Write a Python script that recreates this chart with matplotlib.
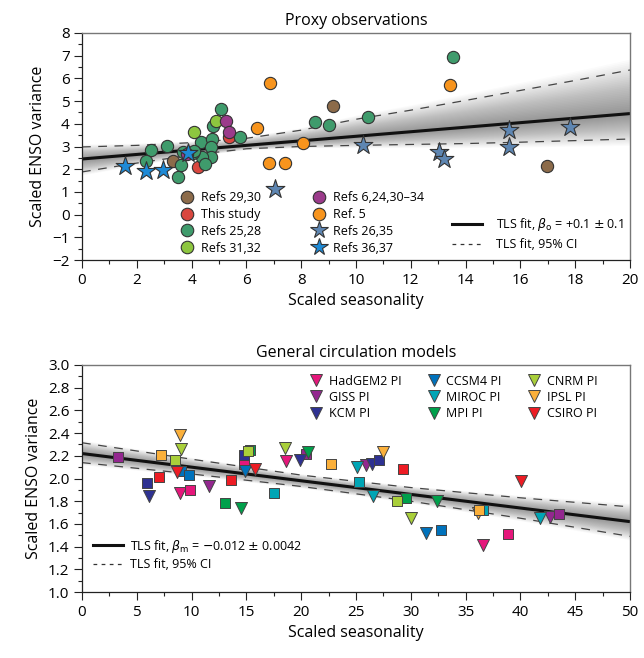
"""Scaled ENSO variance vs scaled seasonality: proxy observations and GCMs."""
import numpy as np
import matplotlib
matplotlib.use("Agg")
import matplotlib.pyplot as plt
from matplotlib.lines import Line2D
from matplotlib.ticker import MultipleLocator

plt.rcParams["font.family"] = ["Open Sans", "DejaVu Sans"]
plt.rcParams["mathtext.fontset"] = "dejavusans"

# ---------------- proxy observations (top) ----------------
PROXY_LABELS = ["Refs 29,30", "This study", "Refs 25,28", "Refs 31,32",
                "Refs 6,24,30\u201334", "Ref. 5", "Refs 26,35", "Refs 36,37"]
PROXY_COLORS = ["#8C6B4A", "#D9473F", "#3F9B6C", "#8DC63F",
                "#9B3B8B", "#F7941D", "#5E86B2", "#1E8AD6"]
PROXY_MARKERS = ["o", "o", "o", "o", "o", "o", "*", "*"]

brown_x = [3.32, 9.16, 16.97]
brown_y = [2.36, 4.78, 2.14]
red_x = [5.36, 4.23]
red_y = [3.42, 2.10]
green_x = [5.07, 4.78, 5.77, 4.34, 4.74, 4.71, 4.71, 4.38, 4.49, 3.10, 2.52,
           2.34, 3.50, 3.61, 3.69, 4.05, 4.09, 8.50, 9.01, 10.44, 13.54]
green_y = [4.65, 3.90, 3.42, 3.20, 3.33, 2.98, 2.54, 2.54, 2.23, 3.02, 2.85,
           2.36, 1.66, 2.19, 2.76, 2.71, 2.80, 4.08, 3.95, 4.30, 6.94]
lime_x = [4.89, 4.09]
lime_y = [4.12, 3.64]
purple_x = [5.26, 5.36, 3.83]
purple_y = [4.12, 3.64, 2.67]
orange_x = [6.86, 6.39, 8.07, 6.83, 7.40, 13.43]
orange_y = [5.80, 3.82, 3.15, 2.27, 2.27, 5.71]
steel_x = [7.06, 10.26, 13.03, 13.21, 15.58, 15.58, 17.81]
steel_y = [1.12, 3.05, 2.76, 2.45, 3.73, 2.98, 3.85]
blue_x = [1.57, 2.34, 2.96, 3.87]
blue_y = [2.14, 1.92, 1.96, 2.71]

PROXY_X = [brown_x, red_x, green_x, lime_x, purple_x, orange_x, steel_x, blue_x]
PROXY_Y = [brown_y, red_y, green_y, lime_y, purple_y, orange_y, steel_y, blue_y]

# TLS fit and 95% CI
top_fit = (2.45, 0.10)   # intercept, slope
top_ci_x = [0, 2, 4, 6, 8, 10, 12, 14, 16, 18, 20]
top_ci_up = [2.98, 3.05, 3.17, 3.36, 3.72, 4.20, 4.60, 5.03, 5.47, 5.91, 6.37]
top_ci_lo = [1.88, 2.27, 2.62, 2.90, 3.00, 3.05, 3.09, 3.13, 3.19, 3.26, 3.33]

# ---------------- general circulation models (bottom) ----------------
GCM_LABELS = ["HadGEM2 PI", "GISS PI", "KCM PI", "CCSM4 PI", "MIROC PI",
              "MPI PI", "CNRM PI", "IPSL PI", "CSIRO PI"]
GCM_COLORS = ["#E5177B", "#93278F", "#2E3192", "#0072BC", "#00A5B5",
              "#00A04B", "#A9CF3A", "#FBB03B", "#ED1C24"]
GCM_TRI_X = [[8.94, 18.61, 36.56], [11.56, 25.90, 42.70], [6.08, 19.92, 26.43],
             [14.90, 31.39], [25.06, 26.52, 41.79], [14.54, 32.36, 20.65],
             [9.06, 18.55, 29.99], [8.91, 27.49, 36.10], [8.67, 15.81, 40.05]]
GCM_TRI_Y = [[1.87, 2.15, 1.41], [1.93, 2.12, 1.66], [1.85, 2.16, 2.13],
             [2.07, 1.52], [2.10, 1.85, 1.65], [1.74, 1.80, 2.23],
             [2.26, 2.27, 1.65], [2.38, 2.23, 1.70], [2.06, 2.08, 1.98]]
GCM_SQ_X = [[9.88, 14.75, 38.90], [3.28, 20.44, 43.52], [5.96, 14.75, 27.13],
            [9.06, 9.79, 32.73], [17.49, 25.30, 36.60], [13.02, 15.36, 29.56],
            [8.52, 15.12, 28.77], [7.24, 22.75, 36.25], [7.00, 13.63, 29.32]]
GCM_SQ_Y = [[1.90, 2.13, 1.51], [2.19, 2.22, 1.69], [1.96, 2.21, 2.16],
            [2.07, 2.03, 1.55], [1.87, 1.97, 1.72], [1.78, 2.25, 1.83],
            [2.16, 2.24, 1.80], [2.21, 2.125, 1.72], [2.01, 1.99, 2.08]]

bot_fit = (2.22, -0.012)
bot_ci_x = [0, 10, 20, 30, 40, 50]
bot_ci_up = [2.315, 2.17, 2.03, 1.92, 1.83, 1.75]
bot_ci_lo = [2.14, 2.04, 1.93, 1.80, 1.65, 1.49]


def draw_band(ax, fit, ci_x, ci_up, ci_lo):
    """Grey fading band, fit line and dashed CI."""
    x = np.asarray(ci_x, float)
    c = fit[0] + fit[1] * x
    up = np.asarray(ci_up) - c
    lo = c - np.asarray(ci_lo)
    n = 30
    for k in range(n):
        f = 1.25 * (k + 1) / n
        ax.fill_between(x, c - f * lo, c + f * up, color="black",
                        alpha=0.016, lw=0, zorder=1)
    ax.plot(x, c, color="#111111", lw=2.2, zorder=2, solid_capstyle="butt")
    ax.plot(ci_x, ci_up, color="#444444", lw=0.9, ls=(0, (7, 6)), zorder=2)
    ax.plot(ci_x, ci_lo, color="#444444", lw=0.9, ls=(0, (7, 6)), zorder=2)


def style_axes(ax):
    for s in ("top", "right"):
        ax.spines[s].set_color("#777777")
        ax.spines[s].set_linewidth(1.0)
    for s in ("left", "bottom"):
        ax.spines[s].set_color("#222222")
        ax.spines[s].set_linewidth(0.9)
    ax.tick_params(which="major", direction="out", length=6, width=0.8,
                   labelsize=11, color="#222222", pad=3)
    ax.tick_params(which="minor", direction="out", length=3, width=0.8,
                   color="#222222")


def line_handles(beta_text):
    return [Line2D([], [], color="#111111", lw=2.2),
            Line2D([], [], color="#333333", lw=0.9, ls=(0, (3, 3.5)))], \
           [beta_text, "TLS fit, 95% CI"]


fig = plt.figure(figsize=(6.44, 6.58), dpi=100)
ax1 = fig.add_axes([82 / 644, 1 - 260 / 658, 548 / 644, 227 / 658])
ax2 = fig.add_axes([82 / 644, 1 - 592 / 658, 548 / 644, 227 / 658])

# ---- top panel ----
draw_band(ax1, top_fit, top_ci_x, top_ci_up, top_ci_lo)
marker_handles = []
for xs, ys, col, mk, lab in zip(PROXY_X, PROXY_Y, PROXY_COLORS,
                                PROXY_MARKERS, PROXY_LABELS):
    size = 200 if mk == "*" else 78
    ax1.scatter(xs, ys, s=size, marker=mk, facecolor=col, edgecolor="#333333",
                linewidth=0.8, zorder=3)
    marker_handles.append(Line2D([], [], ls="", marker=mk, color=col,
                                 markeredgecolor="#333333", markeredgewidth=0.8,
                                 markersize=13 if mk == "*" else 9))
ax1.set_xlim(0, 20)
ax1.set_ylim(-2, 8)
ax1.xaxis.set_major_locator(MultipleLocator(2))
ax1.xaxis.set_minor_locator(MultipleLocator(1))
ax1.yaxis.set_major_locator(MultipleLocator(1))
ax1.yaxis.set_minor_locator(MultipleLocator(0.5))
style_axes(ax1)
ax1.set_title("Proxy observations", fontsize=11.5, pad=6)
ax1.set_xlabel("Scaled seasonality", fontsize=11.5, labelpad=4)
ax1.set_ylabel("Scaled ENSO variance", fontsize=11.5, labelpad=4)

leg1 = ax1.legend(marker_handles, PROXY_LABELS, ncol=2, frameon=False,
                  loc="upper left", bbox_to_anchor=(0.166, 0.33), fontsize=9,
                  handletextpad=0.45, columnspacing=4.0, labelspacing=0.3,
                  borderpad=0, handlelength=1.3)
ax1.add_artist(leg1)
h, l = line_handles(r"TLS fit, $\beta_{\rm o}$ = +0.1 $\pm$ 0.1")
ax1.legend(h, l, frameon=False, loc="lower right",
           bbox_to_anchor=(1.0, 0.01), fontsize=9, handlelength=2.4,
           handletextpad=1.1, labelspacing=0.4, borderpad=0)

# ---- bottom panel ----
draw_band(ax2, bot_fit, bot_ci_x, bot_ci_up, bot_ci_lo)
tri_handles = []
for i, col in enumerate(GCM_COLORS):
    ax2.scatter(GCM_TRI_X[i], GCM_TRI_Y[i], s=75, marker="v", facecolor=col,
                edgecolor="#444444", linewidth=0.7, zorder=3)
    ax2.scatter(GCM_SQ_X[i], GCM_SQ_Y[i], s=62, marker="s", facecolor=col,
                edgecolor="#444444", linewidth=0.7, zorder=3)
    tri_handles.append(Line2D([], [], ls="", marker="v", color=col,
                              markeredgecolor="#444444", markeredgewidth=0.7,
                              markersize=8))
ax2.set_xlim(0, 50)
ax2.set_ylim(1.0, 3.0)
ax2.xaxis.set_major_locator(MultipleLocator(5))
ax2.xaxis.set_minor_locator(MultipleLocator(2.5))
ax2.yaxis.set_major_locator(MultipleLocator(0.2))
ax2.yaxis.set_minor_locator(MultipleLocator(0.1))
ax2.yaxis.set_major_formatter(plt.FormatStrFormatter("%.1f"))
style_axes(ax2)
ax2.set_title("General circulation models", fontsize=11.5, pad=6)
ax2.set_xlabel("Scaled seasonality", fontsize=11.5, labelpad=4)
ax2.set_ylabel("Scaled ENSO variance", fontsize=11.5, labelpad=4)

leg2 = ax2.legend(tri_handles, GCM_LABELS, ncol=3, frameon=False,
                  loc="upper right", bbox_to_anchor=(0.952, 0.985), fontsize=9,
                  handletextpad=0.4, columnspacing=2.0, labelspacing=0.25,
                  borderpad=0, handlelength=1.2)
ax2.add_artist(leg2)
h, l = line_handles(r"TLS fit, $\beta_{\rm m}$ = $-$0.012 $\pm$ 0.0042")
ax2.legend(h, l, frameon=False, loc="lower left",
           bbox_to_anchor=(0.008, 0.065), fontsize=9, handlelength=2.4,
           handletextpad=0.6, labelspacing=0.25, borderpad=0)

fig.savefig("out.png", dpi=100)
